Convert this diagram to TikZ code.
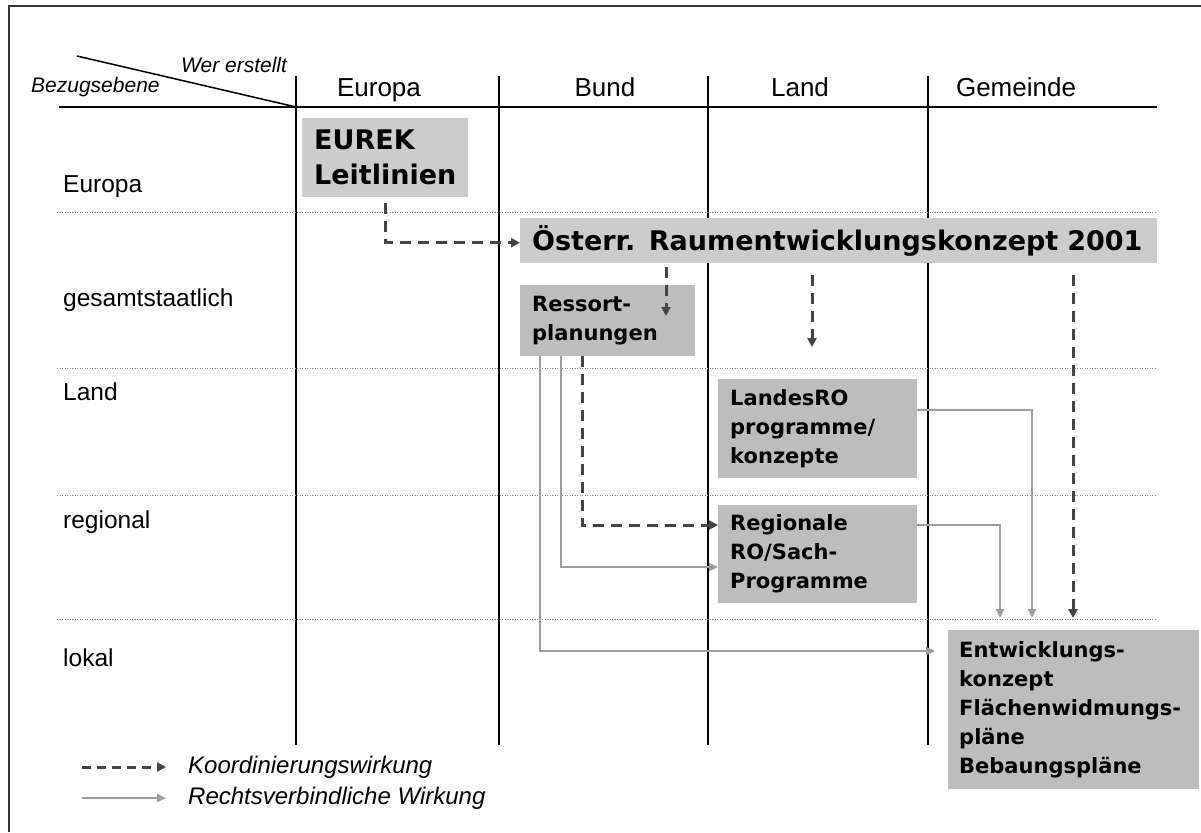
\documentclass[tikz,border=0pt]{standalone}
\usepackage{fontspec}
\setmainfont{Liberation Sans}
\newfontfamily\boxfont{DejaVu Sans}
\usetikzlibrary{arrows.meta}

\definecolor{framegrey}{RGB}{55,55,55}
\definecolor{boxlight}{RGB}{204,204,204}
\definecolor{boxdark}{RGB}{189,189,189}
\definecolor{coordgrey}{RGB}{68,68,68}
\definecolor{lawgrey}{RGB}{158,158,158}
\definecolor{dotgrey}{RGB}{135,135,135}

\begin{document}
\begin{tikzpicture}[x=1pt,y=-1pt,
  colline/.style={line width=1.5pt,black},
  rowline/.style={dotgrey,line width=1pt,dash pattern=on 1pt off 1.5pt},
  headlabel/.style={anchor=base,inner sep=0pt,font=\fontsize{26}{30}\selectfont},
  rowlabel/.style={anchor=base west,inner sep=0pt,font=\fontsize{24.5}{30}\selectfont},
  cornerlabel/.style={anchor=base west,inner sep=0pt,font=\itshape\fontsize{21}{24}\selectfont},
  legendlabel/.style={anchor=west,inner sep=0pt,font=\itshape\fontsize{24}{27}\selectfont},
  bigplan/.style={fill=boxlight,anchor=north west,inner xsep=12pt,inner ysep=0pt,align=left,
    font=\boxfont\bfseries\fontsize{27}{35}\selectfont},
  plan/.style={fill=boxdark,anchor=north west,inner xsep=12pt,inner ysep=0pt,align=left,
    font=\boxfont\bfseries\fontsize{21}{29}\selectfont},
  coord/.style={coordgrey,line width=3pt,dash pattern=on 11pt off 7pt,
    -{Triangle[length=9pt,width=9pt]}},
  law/.style={lawgrey,line width=2.2pt,-{Triangle[length=9pt,width=8pt]}},
]
\useasboundingbox (0,0) rectangle (1201,832);
\fill[white] (0,0) rectangle (1201,832);

% outer frame (left and top edge)
\draw[framegrey,line width=2pt] (9,832) -- (9,6) -- (1201,6);

% table head
\draw[colline] (77,56) -- (296,107);
\draw[black,line width=2pt] (59,107) -- (1157,107);
\foreach \cx in {296,499,708,928}
  \draw[colline] (\cx,76) -- (\cx,745);
\foreach \ry in {212,368,495,619}
  \draw[rowline] (57,\ry) -- (1157,\ry);

\node[cornerlabel] (wer) at (181,73) {Wer erstellt};
\node[cornerlabel] (bezug) at (31,93) {Bezugsebene};

\node[headlabel] (hEuropa) at (379,97) {Europa};
\node[headlabel] (hBund) at (605,97) {Bund};
\node[headlabel] (hLand) at (800,97) {Land};
\node[headlabel] (hGemeinde) at (1016,97) {Gemeinde};

\node[rowlabel] (rEuropa) at (63,192) {Europa};
\node[rowlabel] (rGesamt) at (63,306) {gesamtstaatlich};
\node[rowlabel] (rLand) at (63,400) {Land};
\node[rowlabel] (rRegional) at (63,528) {regional};
\node[rowlabel] (rLokal) at (63,666) {lokal};

% planning instruments
\node[bigplan,text width=142pt,minimum height=79pt] (eurek) at (302,118) {EUREK\\Leitlinien};
\node[bigplan,text width=613pt,minimum height=45pt] (oesterr) at (520,218) {Österr. Raumentwicklungskonzept 2001};
\node[plan,text width=151pt,minimum height=71pt] (ressort) at (520,285) {Ressort-\\planungen};
\node[plan,text width=175pt,minimum height=99pt] (landes) at (718,379) {LandesRO\\programme/\\konzepte};
\node[plan,text width=175pt,minimum height=98pt] (regional) at (718,505) {Regionale\\RO/Sach-\\Programme};
\node[plan,inner xsep=11pt,text width=229pt,minimum height=159pt] (entw) at (948,630) {Entwicklungs-\\konzept\\Flächenwidmungs-\\pläne\\Bebaungspläne};

% free ends of dashed arrows
\coordinate (ressortTip) at (666,316);
\coordinate (landTip) at (812,347);
\coordinate (gemX) at (1073,0);

% coordinating effect
\draw[coord,shorten <=6pt] (eurek.south) |- ([yshift=-2pt]oesterr.west);
\draw[coord,shorten <=4pt] (oesterr.south -| ressortTip) -- (ressortTip);
\draw[coord,shorten <=12pt] (oesterr.south -| landTip) -- (landTip);
\draw[coord,shorten <=12pt,shorten >=12pt] (oesterr.south -| gemX) -- (entw.north -| gemX);
\draw[coord] ([xshift=62pt]ressort.south west) |- ([yshift=-20pt]regional.north west);

% legally binding effect
\draw[law] ([xshift=41pt]ressort.south west) |- ([yshift=-62pt]regional.north west);
\draw[law,shorten >=13pt] ([xshift=20pt]ressort.south west) |- ([yshift=-21pt]entw.north west);
\draw[law,shorten >=12pt] ([yshift=-31pt]landes.north east) -| ([xshift=84pt]entw.north west);
\draw[law,shorten >=12pt] ([yshift=-20pt]regional.north east) -| ([xshift=52pt]entw.north west);

% legend
\node[legendlabel] (legK) at (188,767) {Koordinierungswirkung};
\node[legendlabel] (legR) at (188,798) {Rechtsverbindliche Wirkung};
\coordinate (legK0) at (82,767);
\coordinate (legR0) at (82,798);
\draw[coord,dash pattern=on 9pt off 6pt,shorten >=22pt] (legK0) -- (legK.west);
\draw[law,shorten >=22pt] (legR0) -- (legR.west);
\end{tikzpicture}
\end{document}
